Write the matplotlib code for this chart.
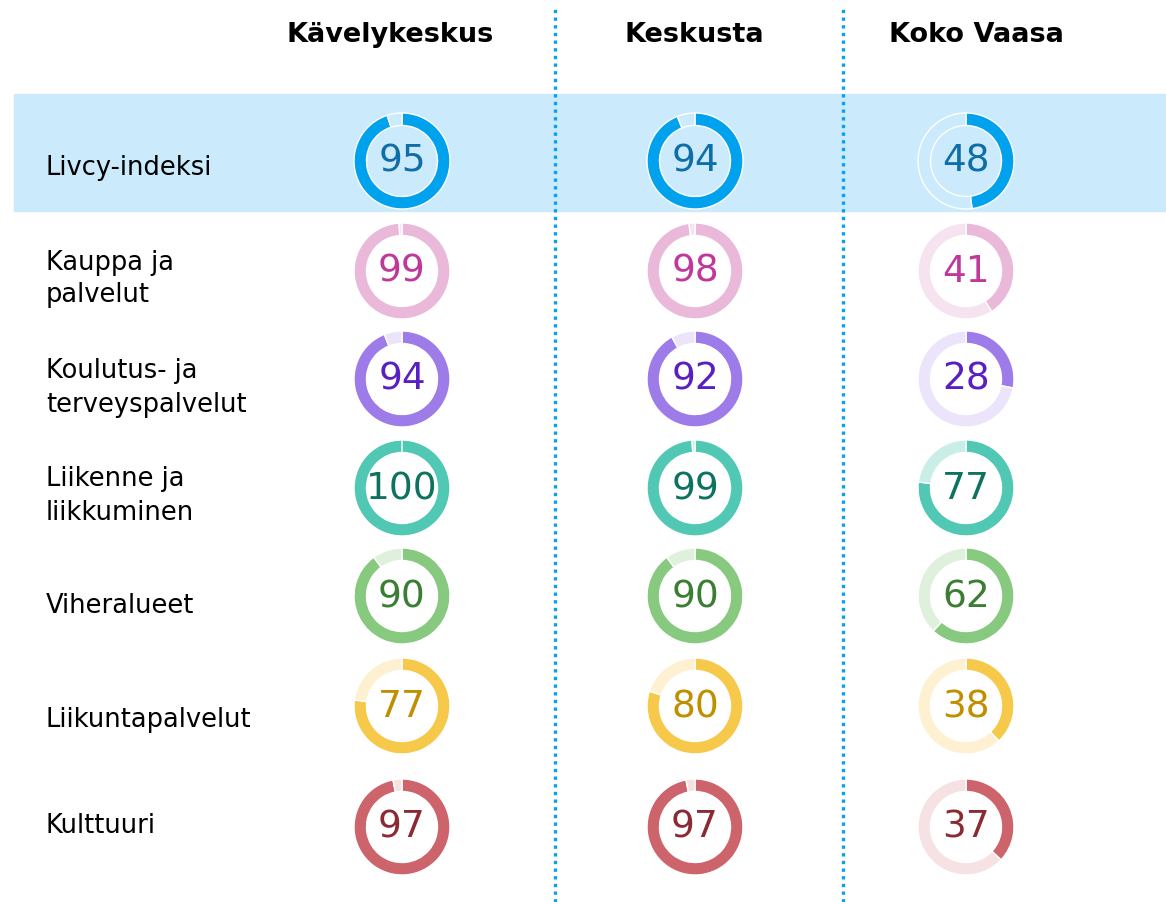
import matplotlib.pyplot as plt

W, H = 1166, 903

columns = ['Kävelykeskus', 'Keskusta', 'Koko Vaasa']
rows = ['Livcy-indeksi', 'Kauppa ja\npalvelut', 'Koulutus- ja\nterveyspalvelut',
        'Liikenne ja\nliikkuminen', 'Viheralueet', 'Liikuntapalvelut', 'Kulttuuri']

kavelykeskus = [95, 99, 94, 100, 90, 77, 97]
keskusta = [94, 98, 92, 99, 90, 80, 97]
koko_vaasa = [48, 41, 28, 77, 62, 38, 37]

# ring colour, remainder colour, number colour
ring_cols = ['#00a2ed', '#eab8d9', '#9d7be9', '#50c8b4', '#86c97f', '#f6c94b', '#cd636b']
rest_cols = ['#cbeafc', '#f5e3ef', '#ebe4fb', '#c9eee8', '#dff1dd', '#fdf1d2', '#f6e1e3']
text_cols = ['#0f6ea8', '#c0399a', '#5a1fc2', '#0d7360', '#3a7d33', '#bf8f00', '#8a2b33']

# layout in pixels from the top left
col_x = [402, 695, 966]
head_x = [390, 694, 976]
row_y = [162, 272, 380, 489, 597, 707, 828]
label_y = [168, 279, 388, 496, 606, 720, 826]
R = 48

fig = plt.figure(figsize=(W / 100, H / 100), dpi=100)
ax = fig.add_axes([0, 0, 1, 1])

ax.axhspan(H - 212, H - 95, xmin=14 / W, xmax=1, color='#cbeafc', zorder=0)

for xl in [555, 843]:
    ax.plot([xl, xl], [0, H - 10], color='#0a9ff0', lw=2.4,
            linestyle=(0, (1, 1.3)), solid_capstyle='butt', dash_capstyle='butt', zorder=1)

for name, hx in zip(columns, head_x):
    ax.text(hx, H - 35, name, ha='center', va='center', fontsize=19.5,
            fontweight='bold', color='black')

for lab, ly in zip(rows, label_y):
    ax.text(46, H - ly, lab, ha='left', va='center', fontsize=18.5,
            color='black', linespacing=1.35)

values = [kavelykeskus, keskusta, koko_vaasa]
for cx, vals in zip(col_x, values):
    for i, (v, cy) in enumerate(zip(vals, row_y)):
        ax.pie([v, 100 - v], colors=[ring_cols[i], rest_cols[i]],
               startangle=90, counterclock=False, radius=R, center=(cx, H - cy),
               wedgeprops=dict(width=12.5, edgecolor='white', linewidth=1.0))
        ax.text(cx, H - cy, str(v), ha='center', va='center', fontsize=27,
                color=text_cols[i])

ax.set_xlim(0, W)
ax.set_ylim(0, H)
ax.set_aspect('auto')
ax.axis('off')

fig.savefig('out.png', dpi=100)
